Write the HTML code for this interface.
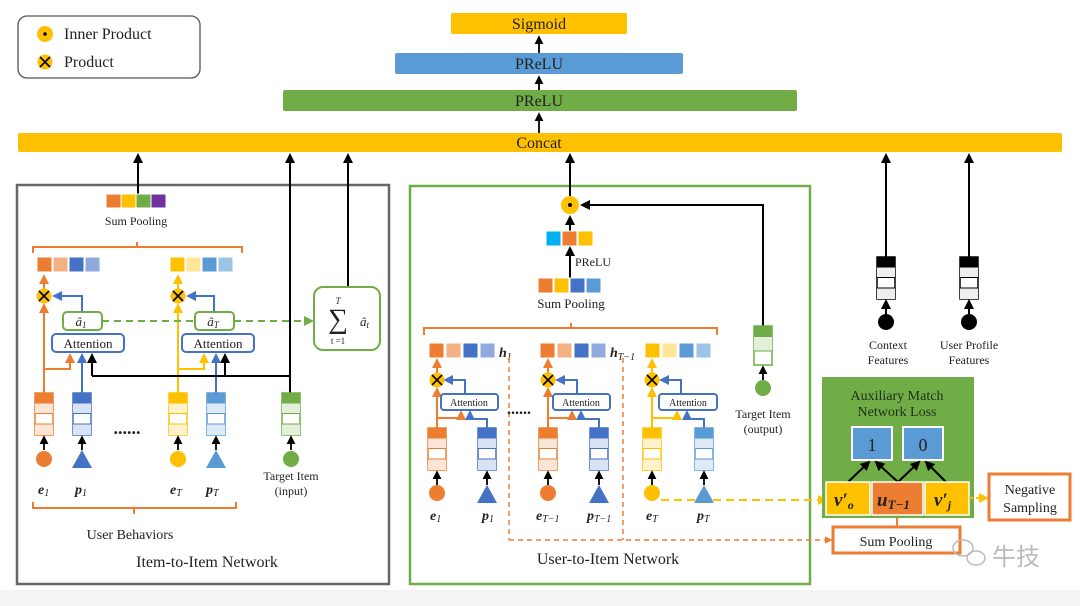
<!DOCTYPE html>
<html><head><meta charset="utf-8"><style>
html,body{margin:0;padding:0;background:#fff}
svg{display:block}
text{font-family:"Liberation Serif",serif;fill:#222}
</style></head><body>
<svg width="1080" height="606" viewBox="0 0 1080 606" xmlns="http://www.w3.org/2000/svg">
<defs>
<marker id="mk" viewBox="0 0 10 10" refX="8" refY="5" markerWidth="5" markerHeight="5" orient="auto"><path d="M0 0L10 5L0 10z" fill="#000"/></marker>
<marker id="mo" viewBox="0 0 10 10" refX="8" refY="5" markerWidth="5" markerHeight="5" orient="auto"><path d="M0 0L10 5L0 10z" fill="#ED7D31"/></marker>
<marker id="mb" viewBox="0 0 10 10" refX="8" refY="5" markerWidth="5" markerHeight="5" orient="auto"><path d="M0 0L10 5L0 10z" fill="#4472C4"/></marker>
<marker id="my" viewBox="0 0 10 10" refX="8" refY="5" markerWidth="5" markerHeight="5" orient="auto"><path d="M0 0L10 5L0 10z" fill="#FFC000"/></marker>
<marker id="mg" viewBox="0 0 10 10" refX="8" refY="5" markerWidth="5" markerHeight="5" orient="auto"><path d="M0 0L10 5L0 10z" fill="#70AD47"/></marker>
<g id="sO"><rect width="18" height="42" fill="#fff" stroke="#ED7D31" stroke-width="1.5"/><rect width="18" height="10" fill="#ED7D31"/><rect y="10" width="18" height="10" fill="#FBE5D6"/><rect y="31" width="18" height="11" fill="#FBE5D6"/><path d="M0 10H18M0 20.5H18M0 31H18" stroke="#ED7D31"/></g>
<g id="sB"><rect width="18" height="42" fill="#fff" stroke="#4472C4" stroke-width="1.5"/><rect width="18" height="10" fill="#4472C4"/><rect y="10" width="18" height="10" fill="#DAE3F3"/><rect y="31" width="18" height="11" fill="#DAE3F3"/><path d="M0 10H18M0 20.5H18M0 31H18" stroke="#4472C4"/></g>
<g id="sL"><rect width="18" height="42" fill="#fff" stroke="#5B9BD5" stroke-width="1.5"/><rect width="18" height="10" fill="#5B9BD5"/><rect y="10" width="18" height="10" fill="#DEEBF7"/><rect y="31" width="18" height="11" fill="#DEEBF7"/><path d="M0 10H18M0 20.5H18M0 31H18" stroke="#5B9BD5"/></g>
<g id="sY"><rect width="18" height="42" fill="#fff" stroke="#FFC000" stroke-width="1.5"/><rect width="18" height="10" fill="#FFC000"/><rect y="10" width="18" height="10" fill="#FFF2CC"/><rect y="31" width="18" height="11" fill="#FFF2CC"/><path d="M0 10H18M0 20.5H18M0 31H18" stroke="#FFC000"/></g>
<g id="sG"><rect width="18" height="42" fill="#fff" stroke="#70AD47" stroke-width="1.5"/><rect width="18" height="10" fill="#70AD47"/><rect y="10" width="18" height="10" fill="#E2F0D9"/><rect y="31" width="18" height="11" fill="#E2F0D9"/><path d="M0 10H18M0 20.5H18M0 31H18" stroke="#70AD47"/></g>
<g id="sK"><rect width="18" height="42" fill="#fff" stroke="#000" stroke-width="1.5"/><rect width="18" height="10" fill="#000"/><rect y="10" width="18" height="10" fill="#eee"/><rect y="31" width="18" height="11" fill="#eee"/><path d="M0 10H18M0 20.5H18M0 31H18" stroke="#000"/></g>
<g id="px"><circle r="7.5" fill="#FFC000"/><path d="M-5 -5L5 5M5 -5L-5 5" stroke="#000" stroke-width="1.6"/></g>
</defs>

<!-- bottom strip -->
<rect x="0" y="590" width="1080" height="16" fill="#f4f4f4"/>

<!-- legend -->
<rect x="18" y="16" width="182" height="62" rx="9" fill="#fff" stroke="#555" stroke-width="1.3"/>
<circle cx="45" cy="34" r="8" fill="#FFC000"/><circle cx="45" cy="34" r="1.8" fill="#000"/>
<text x="64" y="39" font-size="16">Inner Product</text>
<use href="#px" x="45" y="62"/>
<text x="64" y="67" font-size="16">Product</text>

<!-- top bars -->
<rect x="451" y="13" width="176" height="21" rx="2" fill="#FFC000"/>
<text x="539" y="29" font-size="16" text-anchor="middle">Sigmoid</text>
<rect x="395" y="53" width="288" height="21" rx="2" fill="#5B9BD5"/>
<text x="539" y="69" font-size="16" text-anchor="middle">PReLU</text>
<rect x="283" y="90" width="514" height="21" rx="2" fill="#70AD47"/>
<text x="539" y="106" font-size="16" text-anchor="middle">PReLU</text>
<rect x="18" y="133" width="1044" height="19" rx="2" fill="#FFC000"/>
<text x="539" y="148" font-size="16" text-anchor="middle">Concat</text>
<g stroke="#000" stroke-width="1.8" marker-end="url(#mk)">
<path d="M539 53V37"/><path d="M539 90V77"/><path d="M539 133V114"/>
</g>

<!-- LEFT PANEL -->
<rect x="17" y="185" width="372" height="399" fill="none" stroke="#666" stroke-width="2.5"/>
<g stroke="#000" stroke-width="2" fill="none" marker-end="url(#mk)">
<path d="M138 194V155"/><path d="M290 393V155"/><path d="M348 287V155"/>
</g>
<rect x="106" y="194" width="15" height="14" fill="#ED7D31" stroke="#fff"/>
<rect x="121" y="194" width="15" height="14" fill="#FFC000" stroke="#fff"/>
<rect x="136" y="194" width="15" height="14" fill="#70AD47" stroke="#fff"/>
<rect x="151" y="194" width="15" height="14" fill="#7030A0" stroke="#fff"/>
<text x="136" y="225" font-size="12" text-anchor="middle">Sum Pooling</text>
<path d="M33 253V247H137V242M137 247H242V253" stroke="#ED7D31" stroke-width="2" fill="none"/>
<rect x="37" y="257" width="15" height="15" fill="#ED7D31" stroke="#fff"/>
<rect x="53" y="257" width="15" height="15" fill="#F4B183" stroke="#fff"/>
<rect x="69" y="257" width="15" height="15" fill="#4472C4" stroke="#fff"/>
<rect x="85" y="257" width="15" height="15" fill="#8FAADC" stroke="#fff"/>
<rect x="170" y="257" width="15" height="15" fill="#FFC000" stroke="#fff"/>
<rect x="186" y="257" width="15" height="15" fill="#FFE699" stroke="#fff"/>
<rect x="202" y="257" width="15" height="15" fill="#5B9BD5" stroke="#fff"/>
<rect x="218" y="257" width="15" height="15" fill="#9DC3E6" stroke="#fff"/>
<g fill="none" stroke-width="2">
<path d="M44 289V276" stroke="#ED7D31" marker-end="url(#mo)"/>
<path d="M178 289V276" stroke="#FFC000" marker-end="url(#my)"/>
<path d="M44 393V305" stroke="#ED7D31" marker-end="url(#mo)"/>
<path d="M44 369H70V355" stroke="#ED7D31" marker-end="url(#mo)"/>
<path d="M178 393V305" stroke="#FFC000" marker-end="url(#my)"/>
<path d="M178 369H204V355" stroke="#FFC000" marker-end="url(#my)"/>
<path d="M82 393V355" stroke="#4472C4" marker-end="url(#mb)"/>
<path d="M216 393V355" stroke="#4472C4" marker-end="url(#mb)"/>
<path d="M82 312V296H54" stroke="#4472C4" marker-end="url(#mb)"/>
<path d="M214 312V296H188" stroke="#4472C4" marker-end="url(#mb)"/>
<path d="M92 376H290" stroke="#000"/>
<path d="M92 376V355" stroke="#000" marker-end="url(#mk)"/>
<path d="M225 376V355" stroke="#000" marker-end="url(#mk)"/>
<path d="M102 321H312" stroke="#70AD47" stroke-dasharray="7 5" marker-end="url(#mg)"/>
</g>
<use href="#px" x="44" y="296"/><use href="#px" x="178" y="296"/>
<rect x="63" y="312" width="39" height="18" rx="4" fill="#fff" stroke="#70AD47" stroke-width="2"/>
<text x="81" y="326" font-size="13" font-style="italic" text-anchor="middle">â<tspan font-size="9" dy="2">1</tspan></text>
<rect x="195" y="312" width="39" height="18" rx="4" fill="#fff" stroke="#70AD47" stroke-width="2"/>
<text x="213" y="326" font-size="13" font-style="italic" text-anchor="middle">â<tspan font-size="9" dy="2">T</tspan></text>
<rect x="52" y="334" width="72" height="18" rx="4" fill="#fff" stroke="#4472C4" stroke-width="2"/>
<text x="88" y="348" font-size="13" text-anchor="middle">Attention</text>
<rect x="182" y="334" width="72" height="18" rx="4" fill="#fff" stroke="#4472C4" stroke-width="2"/>
<text x="218" y="348" font-size="13" text-anchor="middle">Attention</text>
<rect x="314" y="287" width="66" height="63" rx="9" fill="#fff" stroke="#70AD47" stroke-width="2"/>
<text x="338" y="304" font-size="9" font-style="italic" text-anchor="middle">T</text>
<text x="338" y="328" font-size="28" text-anchor="middle">∑</text>
<text x="360" y="326" font-size="13" font-style="italic">â<tspan font-size="9" dy="2">t</tspan></text>
<text x="338" y="344" font-size="9" text-anchor="middle">t =1</text>
<use href="#sO" x="35" y="393"/><use href="#sB" x="73" y="393"/>
<use href="#sY" x="169" y="393"/><use href="#sL" x="207" y="393"/>
<use href="#sG" x="282" y="393"/>
<text x="127" y="434" font-size="18" font-weight="bold" text-anchor="middle">......</text>
<g stroke="#000" stroke-width="1.8" marker-end="url(#mk)">
<path d="M44 450V437"/><path d="M82 450V437"/><path d="M178 450V437"/><path d="M216 450V437"/><path d="M291 450V437"/>
</g>
<circle cx="44" cy="459" r="8" fill="#ED7D31"/>
<polygon points="72,468 92,468 82,450" fill="#4472C4"/>
<circle cx="178" cy="459" r="8" fill="#FFC000"/>
<polygon points="206,468 226,468 216,450" fill="#5B9BD5"/>
<circle cx="291" cy="459" r="8" fill="#70AD47"/>
<g font-size="14" font-weight="bold" font-style="italic">
<text x="38" y="494">e<tspan font-size="10" dy="2" font-weight="normal">1</tspan></text>
<text x="75" y="494">p<tspan font-size="10" dy="2" font-weight="normal">1</tspan></text>
<text x="170" y="494">e<tspan font-size="10" dy="2" font-weight="normal">T</tspan></text>
<text x="206" y="494">p<tspan font-size="10" dy="2" font-weight="normal">T</tspan></text>
</g>
<text x="291" y="480" font-size="12" text-anchor="middle">Target Item</text>
<text x="291" y="495" font-size="12" text-anchor="middle">(input)</text>
<path d="M33 502V508H134V514M134 508H236V502" stroke="#ED7D31" stroke-width="2" fill="none"/>
<text x="130" y="539" font-size="14" text-anchor="middle">User Behaviors</text>
<text x="207" y="567" font-size="16" text-anchor="middle">Item-to-Item  Network</text>

<!-- MIDDLE PANEL -->
<rect x="410" y="186" width="400" height="398" fill="none" stroke="#70AD47" stroke-width="2.5"/>
<g stroke="#000" stroke-width="2" fill="none" marker-end="url(#mk)">
<path d="M570 196V155"/><path d="M763 326V205H582"/><path d="M570 231V217"/><path d="M570 278V248"/>
</g>
<circle cx="570" cy="205" r="9" fill="#FFC000"/><circle cx="570" cy="205" r="2" fill="#000"/>
<rect x="546" y="231" width="15" height="15" fill="#00B0F0" stroke="#fff"/>
<rect x="562" y="231" width="15" height="15" fill="#ED7D31" stroke="#fff"/>
<rect x="578" y="231" width="15" height="15" fill="#FFC000" stroke="#fff"/>
<text x="575" y="266" font-size="12">PReLU</text>
<rect x="538" y="278" width="15" height="15" fill="#ED7D31" stroke="#fff"/>
<rect x="554" y="278" width="15" height="15" fill="#FFC000" stroke="#fff"/>
<rect x="570" y="278" width="15" height="15" fill="#4472C4" stroke="#fff"/>
<rect x="586" y="278" width="15" height="15" fill="#5B9BD5" stroke="#fff"/>
<text x="571" y="308" font-size="13" text-anchor="middle">Sum Pooling</text>
<path d="M424 335V328H571V323M571 328H717V335" stroke="#ED7D31" stroke-width="2" fill="none"/>
<rect x="429" y="343" width="15" height="15" fill="#ED7D31" stroke="#fff"/>
<rect x="446" y="343" width="15" height="15" fill="#F4B183" stroke="#fff"/>
<rect x="463" y="343" width="15" height="15" fill="#4472C4" stroke="#fff"/>
<rect x="480" y="343" width="15" height="15" fill="#8FAADC" stroke="#fff"/>
<rect x="540" y="343" width="15" height="15" fill="#ED7D31" stroke="#fff"/>
<rect x="557" y="343" width="15" height="15" fill="#F4B183" stroke="#fff"/>
<rect x="574" y="343" width="15" height="15" fill="#4472C4" stroke="#fff"/>
<rect x="591" y="343" width="15" height="15" fill="#8FAADC" stroke="#fff"/>
<rect x="645" y="343" width="15" height="15" fill="#FFC000" stroke="#fff"/>
<rect x="662" y="343" width="15" height="15" fill="#FFE699" stroke="#fff"/>
<rect x="679" y="343" width="15" height="15" fill="#5B9BD5" stroke="#fff"/>
<rect x="696" y="343" width="15" height="15" fill="#9DC3E6" stroke="#fff"/>
<g font-size="14" font-weight="bold" font-style="italic">
<text x="499" y="357">h<tspan font-size="10" dy="3" font-weight="normal">1</tspan></text>
<text x="610" y="357">h<tspan font-size="10" dy="3" font-weight="normal">T−1</tspan></text>
</g>
<g fill="none" stroke="#ED7D31" stroke-width="1.5" stroke-dasharray="5 4">
<path d="M509 358V540"/><path d="M623 358V540"/>
<path d="M509 540H831" marker-end="url(#mo)"/>
</g>
<g fill="none" stroke-width="2">
<path d="M437 373V360" stroke="#ED7D31" marker-end="url(#mo)"/>
<path d="M548 373V360" stroke="#ED7D31" marker-end="url(#mo)"/>
<path d="M652 373V360" stroke="#FFC000" marker-end="url(#my)"/>
<path d="M437 428V389" stroke="#ED7D31" marker-end="url(#mo)"/>
<path d="M437 418H461V412" stroke="#ED7D31" marker-end="url(#mo)"/>
<path d="M548 428V389" stroke="#ED7D31" marker-end="url(#mo)"/>
<path d="M548 418H572V412" stroke="#ED7D31" marker-end="url(#mo)"/>
<path d="M652 428V389" stroke="#FFC000" marker-end="url(#my)"/>
<path d="M652 418H677V412" stroke="#FFC000" marker-end="url(#my)"/>
<path d="M487 428V419H470V412" stroke="#4472C4" marker-end="url(#mb)"/>
<path d="M599 428V419H581V412" stroke="#4472C4" marker-end="url(#mb)"/>
<path d="M704 428V419H687V412" stroke="#4472C4" marker-end="url(#mb)"/>
<path d="M465 394V380H445" stroke="#4472C4" marker-end="url(#mb)"/>
<path d="M577 394V380H557" stroke="#4472C4" marker-end="url(#mb)"/>
<path d="M681 394V380H661" stroke="#4472C4" marker-end="url(#mb)"/>
<path d="M661 500H826" stroke="#FFC000" stroke-dasharray="8 5" marker-end="url(#my)"/>
</g>
<use href="#px" x="437" y="380"/><use href="#px" x="548" y="380"/><use href="#px" x="652" y="380"/>
<rect x="441" y="394" width="57" height="16" rx="3" fill="#fff" stroke="#4472C4" stroke-width="2"/>
<text x="469" y="406" font-size="10" text-anchor="middle">Attention</text>
<rect x="553" y="394" width="57" height="16" rx="3" fill="#fff" stroke="#4472C4" stroke-width="2"/>
<text x="581" y="406" font-size="10" text-anchor="middle">Attention</text>
<rect x="659" y="394" width="58" height="16" rx="3" fill="#fff" stroke="#4472C4" stroke-width="2"/>
<text x="688" y="406" font-size="10" text-anchor="middle">Attention</text>
<text x="519" y="414" font-size="16" font-weight="bold" text-anchor="middle">......</text>
<use href="#sO" x="428" y="428"/><use href="#sB" x="478" y="428"/>
<use href="#sO" x="539" y="428"/><use href="#sB" x="590" y="428"/>
<use href="#sY" x="643" y="428"/><use href="#sL" x="695" y="428"/>
<g stroke="#000" stroke-width="1.8" marker-end="url(#mk)">
<path d="M437 485V472"/><path d="M487 485V472"/><path d="M548 485V472"/><path d="M599 485V472"/><path d="M652 485V472"/><path d="M704 485V472"/><path d="M763 380V367"/>
</g>
<circle cx="437" cy="493" r="8" fill="#ED7D31"/>
<polygon points="477,503 497,503 487,485" fill="#4472C4"/>
<circle cx="548" cy="493" r="8" fill="#ED7D31"/>
<polygon points="589,503 609,503 599,485" fill="#4472C4"/>
<circle cx="652" cy="493" r="8" fill="#FFC000"/>
<polygon points="694,503 714,503 704,485" fill="#5B9BD5"/>
<g font-size="14" font-weight="bold" font-style="italic">
<text x="430" y="520">e<tspan font-size="10" dy="2" font-weight="normal">1</tspan></text>
<text x="482" y="520">p<tspan font-size="10" dy="2" font-weight="normal">1</tspan></text>
<text x="536" y="520">e<tspan font-size="10" dy="2" font-weight="normal">T−1</tspan></text>
<text x="587" y="520">p<tspan font-size="10" dy="2" font-weight="normal">T−1</tspan></text>
<text x="646" y="520">e<tspan font-size="10" dy="2" font-weight="normal">T</tspan></text>
<text x="697" y="520">p<tspan font-size="10" dy="2" font-weight="normal">T</tspan></text>
</g>
<g><rect x="754" y="326" width="18" height="39" fill="#fff" stroke="#70AD47" stroke-width="1.5"/><rect x="754" y="326" width="18" height="11" fill="#70AD47"/><rect x="754" y="337" width="18" height="14" fill="#E2F0D9"/><path d="M754 351H772" stroke="#70AD47"/></g>
<circle cx="763" cy="388" r="8" fill="#70AD47"/>
<text x="763" y="418" font-size="12" text-anchor="middle">Target Item</text>
<text x="763" y="433" font-size="12" text-anchor="middle">(output)</text>
<text x="608" y="564" font-size="16" text-anchor="middle">User-to-Item  Network</text>

<!-- RIGHT -->
<g stroke="#000" stroke-width="2" fill="none" marker-end="url(#mk)">
<path d="M886 257V155"/><path d="M969 257V155"/><path d="M886 314V301"/><path d="M969 314V301"/>
</g>
<use href="#sK" x="877" y="257"/><use href="#sK" x="960" y="257"/>
<circle cx="886" cy="322" r="8" fill="#000"/><circle cx="969" cy="322" r="8" fill="#000"/>
<text x="888" y="349" font-size="12" text-anchor="middle">Context</text>
<text x="888" y="364" font-size="12" text-anchor="middle">Features</text>
<text x="969" y="349" font-size="12" text-anchor="middle">User Profile</text>
<text x="969" y="364" font-size="12" text-anchor="middle">Features</text>

<rect x="822" y="377" width="152" height="141" fill="#70AD47"/>
<text x="897" y="400" font-size="14" text-anchor="middle" style="fill:#1e2d1a">Auxiliary Match</text>
<text x="897" y="416" font-size="14" text-anchor="middle" style="fill:#1e2d1a">Network Loss</text>
<rect x="852" y="427" width="40" height="33" fill="#5B9BD5" stroke="#fff" stroke-width="2"/>
<text x="872" y="451" font-size="18" text-anchor="middle">1</text>
<rect x="903" y="427" width="40" height="33" fill="#5B9BD5" stroke="#fff" stroke-width="2"/>
<text x="923" y="451" font-size="18" text-anchor="middle">0</text>
<g stroke="#000" stroke-width="2" fill="none" marker-end="url(#mk)">
<path d="M848 482L869 462"/><path d="M898 482L876 462"/><path d="M898 482L919 462"/><path d="M946 482L926 462"/>
</g>
<rect x="826" y="482" width="44" height="33" fill="#FFC000" stroke="#fff" stroke-width="1.5"/>
<rect x="872" y="482" width="51" height="33" fill="#ED7D31" stroke="#fff" stroke-width="1.5"/>
<rect x="925" y="482" width="44" height="33" fill="#FFC000" stroke="#fff" stroke-width="1.5"/>
<g font-size="19" font-weight="bold" font-style="italic">
<text x="834" y="506">v′<tspan font-size="12" dy="3">o</tspan></text>
<text x="877" y="506">u<tspan font-size="13" dy="3">T−1</tspan></text>
<text x="934" y="506">v′<tspan font-size="12" dy="3">j</tspan></text>
</g>
<path d="M969 498H987" stroke="#FFC000" stroke-width="2" stroke-dasharray="4 3" marker-end="url(#my)"/>
<rect x="989" y="474" width="81" height="46" fill="#fff" stroke="#ED7D31" stroke-width="3"/>
<text x="1030" y="494" font-size="14" text-anchor="middle">Negative</text>
<text x="1030" y="512" font-size="14" text-anchor="middle">Sampling</text>
<rect x="833" y="527" width="127" height="26" fill="#fff" stroke="#ED7D31" stroke-width="3"/>
<text x="896" y="546" font-size="14" text-anchor="middle">Sum Pooling</text>
<path d="M897 527V518" stroke="#ED7D31" stroke-width="2"/>
<!-- watermark -->
<g fill="none" stroke="#bbb" stroke-width="1.5">
<ellipse cx="963" cy="548" rx="10" ry="8"/><ellipse cx="976" cy="558" rx="9" ry="7"/>
</g>
<text x="992" y="565" font-size="24" style="fill:#bbb;font-family:'Noto Sans CJK SC',sans-serif">牛技</text>
</svg>
</body></html>
